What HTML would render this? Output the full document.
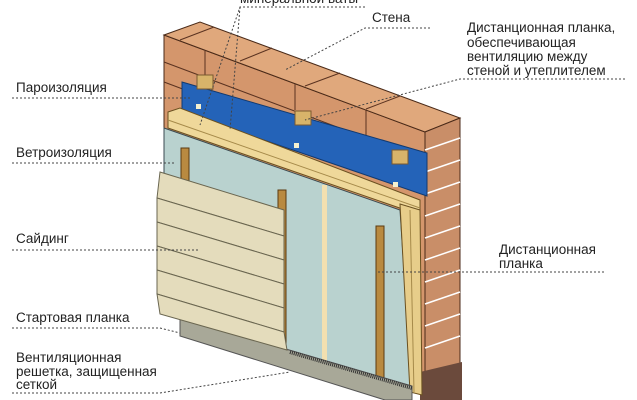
<!DOCTYPE html>
<html><head><meta charset="utf-8"><style>
html,body{margin:0;padding:0;background:#fff;width:637px;height:400px;overflow:hidden}
svg{display:block}
text{font-family:"Liberation Sans",sans-serif;font-size:13.5px;fill:#222}
.d{stroke:#444;stroke-width:1;stroke-dasharray:2,2;fill:none}
</style></head><body>
<svg width="637" height="400" viewBox="0 0 637 400" xmlns="http://www.w3.org/2000/svg">
<polygon points="164,35 425,132 425,380 164,300" fill="#d4966c" stroke="#4a2a18" stroke-width="1"/>
<polygon points="164,35 200,22 460,118 425,132" fill="#e0a87c" stroke="#4a2a18" stroke-width="1"/>
<g stroke="#5a3220" stroke-width="1">
<line x1="214" y1="27" x2="180" y2="40"/><line x1="272" y1="48" x2="240" y2="61"/><line x1="340" y1="73" x2="305" y2="86"/><line x1="400" y1="96" x2="366" y2="109"/>
<line x1="164" y1="62" x2="425" y2="160"/><line x1="164" y1="82" x2="425" y2="180"/>
<line x1="205" y1="50" x2="205" y2="75"/><line x1="295" y1="84" x2="295" y2="110"/><line x1="366" y1="110" x2="366" y2="136"/>
</g>
<polygon points="425,132 460,118 460,370 425,382" fill="#c98e68" stroke="#4a2a18"/>
<g stroke="#fff" stroke-width="1.5">
<line x1="425" y1="150" x2="460" y2="138"/><line x1="425" y1="172" x2="460" y2="160"/><line x1="425" y1="194" x2="460" y2="182"/><line x1="425" y1="216" x2="460" y2="204"/><line x1="425" y1="238" x2="460" y2="226"/><line x1="425" y1="260" x2="460" y2="248"/><line x1="425" y1="282" x2="460" y2="270"/><line x1="425" y1="304" x2="460" y2="292"/><line x1="425" y1="326" x2="460" y2="314"/><line x1="425" y1="348" x2="460" y2="336"/>
</g>
<polygon points="420,372 462,362 462,400 420,400" fill="#6b4a3c"/>
<polygon points="182,82 427,153 427,196 182,112" fill="#2463b8" stroke="#123a70"/>
<g fill="#f4f0d0"><rect x="196" y="104" width="5" height="5"/><rect x="294" y="143" width="5" height="5"/><rect x="393" y="182" width="5" height="5"/></g>
<rect x="197" y="75" width="16" height="14" fill="#d8b46a" stroke="#7a5a30"/>
<rect x="295" y="111" width="16" height="14" fill="#d8b46a" stroke="#7a5a30"/>
<rect x="392" y="150" width="16" height="14" fill="#d8b46a" stroke="#7a5a30"/>
<polygon points="168,112 180,108 420,200 420,215 168,128" fill="#efd89a" stroke="#6a5020"/>
<line x1="168" y1="120" x2="420" y2="208" stroke="#a68a4a"/>
<polygon points="164,128 400,210 412,392 164,310" fill="#b9d2cf" stroke="#3a4a50"/>
<rect x="322" y="185" width="5" height="185" fill="#f3e0b0"/>
<polygon points="400,204 420,210 422,395 410,392" fill="#e7cd8a" stroke="#6a5020"/>
<line x1="410" y1="210" x2="414" y2="392" stroke="#a68a4a"/>
<rect x="181" y="148" width="8" height="40" fill="#b98a40" stroke="#5a3a10"/>
<rect x="278" y="190" width="8" height="170" fill="#b98a40" stroke="#5a3a10"/>
<rect x="376" y="226" width="8" height="165" fill="#b98a40" stroke="#5a3a10"/>
<polygon points="180,318 412,386 412,400 385,400 180,336" fill="#a8a898" stroke="#555"/>
<line x1="290" y1="352" x2="412" y2="388" stroke="#333" stroke-width="4" stroke-dasharray="1,1"/>
<g stroke="#6a6650" stroke-width="1" fill="#e4dcbc">
<polygon points="160,172 284,210 284,236 157,198"/>
<polygon points="157,198 284,236 284,260 157,222"/>
<polygon points="157,222 284,260 284,284 157,246"/>
<polygon points="157,246 284,284 284,308 157,270"/>
<polygon points="157,270 284,308 284,332 157,294"/>
<polygon points="157,294 284,332 287,350 160,314"/>
</g>
<text x="240" y="3">минеральной ваты</text>
<text x="372" y="22">Стена</text>
<text x="467" y="32">Дистанционная планка,</text>
<text x="467" y="47">обеспечивающая</text>
<text x="467" y="61">вентиляцию между</text>
<text x="467" y="75">стеной и утеплителем</text>
<text x="16" y="92">Пароизоляция</text>
<text x="16" y="157">Ветроизоляция</text>
<text x="16" y="243">Сайдинг</text>
<text x="499" y="254">Дистанционная</text>
<text x="499" y="268">планка</text>
<text x="16" y="322">Стартовая планка</text>
<text x="16" y="362">Вентиляционная</text>
<text x="16" y="376">решетка, защищенная</text>
<text x="16" y="389">сеткой</text>
<polyline class="d" points="365,7 240,7 200,125"/>
<line class="d" x1="240" y1="7" x2="230" y2="130"/>
<polyline class="d" points="430,28 365,28 285,70"/>
<polyline class="d" points="625,79 460,79 305,120"/>
<line class="d" x1="12" y1="98" x2="190" y2="98"/>
<line class="d" x1="12" y1="163" x2="175" y2="163"/>
<line class="d" x1="12" y1="250" x2="200" y2="250"/>
<line class="d" x1="378" y1="272" x2="605" y2="272"/>
<polyline class="d" points="12,328 160,328 180,333"/>
<polyline class="d" points="12,393 160,393 290,372"/>
</svg>
</body></html>
